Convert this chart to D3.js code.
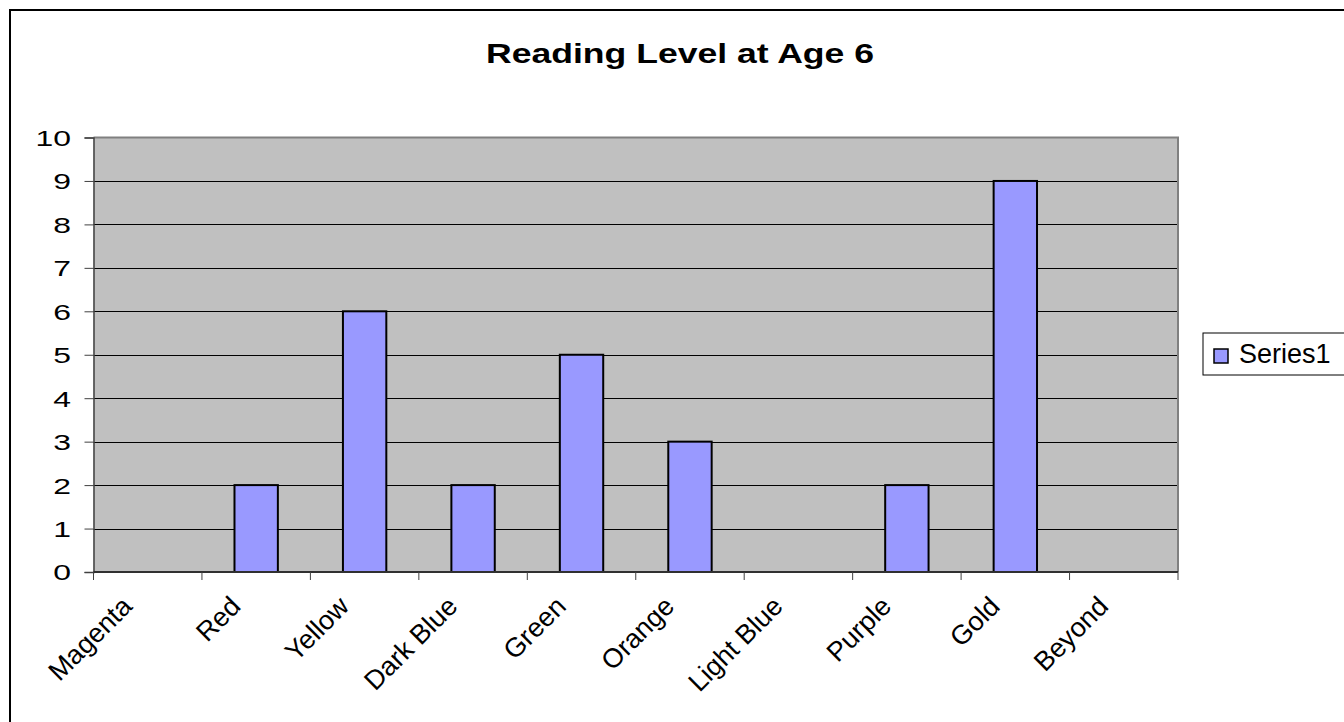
<!DOCTYPE html>
<html>
<head>
<meta charset="utf-8">
<script src="https://cdn.jsdelivr.net/npm/d3@7"></script>
<style>
  html, body { margin: 0; padding: 0; background: #fff; }
  svg { display: block; font-family: "Liberation Sans", Arial, sans-serif; }
</style>
</head>
<body>
<svg id="chart" width="1344" height="722"></svg>
<script>
// Reading levels and the number of children at each level
const categories = ["Magenta", "Red", "Yellow", "Dark Blue", "Green", "Orange", "Light Blue", "Purple", "Gold", "Beyond"];
const series1 = [0, 2, 6, 2, 5, 3, 0, 2, 9, 0];
const yTicks = [0, 1, 2, 3, 4, 5, 6, 7, 8, 9, 10];
const seriesName = "Series1";
const chartTitle = "Reading Level at Age 6";

const svg = d3.select("#chart");

// Outer chart frame
svg.append("rect")
  .attr("x", 10).attr("y", 10)
  .attr("width", 1360).attr("height", 740)
  .attr("fill", "#fff").attr("stroke", "#000").attr("stroke-width", 2);

const plot = { left: 93.5, right: 1178, top: 137.5, bottom: 572 };

const x = d3.scaleBand()
  .domain(categories)
  .range([plot.left, plot.right])
  .paddingInner(0.6)
  .paddingOuter(0.3);

const y = d3.scaleLinear()
  .domain([0, 10])
  .range([plot.bottom, plot.top]);

// Plot background
svg.append("rect")
  .attr("x", plot.left).attr("y", plot.top)
  .attr("width", plot.right - plot.left).attr("height", plot.bottom - plot.top)
  .attr("fill", "#c0c0c0");

// Horizontal gridlines
svg.append("g")
  .selectAll("line")
  .data(yTicks.filter(d => d > 0 && d < 10))
  .join("line")
  .attr("x1", plot.left).attr("x2", plot.right)
  .attr("y1", d => Math.round(y(d)) + 0.5).attr("y2", d => Math.round(y(d)) + 0.5)
  .attr("stroke", "#000").attr("stroke-width", 1);

// Plot border (top and right in grey)
svg.append("path")
  .attr("d", `M${plot.left},${plot.top} H${plot.right} V${plot.bottom}`)
  .attr("fill", "none").attr("stroke", "#808080").attr("stroke-width", 2);

// Bars
svg.append("g")
  .selectAll("rect")
  .data(categories.map((c, i) => ({ c, v: series1[i] })).filter(d => d.v > 0))
  .join("rect")
  .attr("x", d => x(d.c))
  .attr("y", d => y(d.v))
  .attr("width", x.bandwidth())
  .attr("height", d => y(0) - y(d.v))
  .attr("fill", "#9999ff")
  .attr("stroke", "#000").attr("stroke-width", 2);

// Y axis
const yAxis = svg.append("g")
  .attr("transform", `translate(${plot.left},0)`)
  .call(d3.axisLeft(y).tickValues(yTicks).tickSize(9).tickFormat(d3.format("d")));
yAxis.select(".domain").attr("stroke", "#404040").attr("stroke-width", 1.5);
yAxis.selectAll(".tick line").attr("stroke", "#404040");
yAxis.selectAll(".tick text")
  .attr("x", 0)
  .attr("transform", "translate(-22.5,0) scale(1.45,1)")
  .attr("font-size", 22).attr("fill", "#000")
  .attr("font-family", "Liberation Sans, Arial, sans-serif")
  .attr("dy", "0.36em");

// X axis with ticks at category boundaries
const xAxisG = svg.append("g");
xAxisG.append("line")
  .attr("x1", plot.left).attr("x2", plot.right)
  .attr("y1", plot.bottom).attr("y2", plot.bottom)
  .attr("stroke", "#303030").attr("stroke-width", 2);
const step = x.step();
xAxisG.selectAll(".xtick")
  .data(d3.range(categories.length + 1))
  .join("line")
  .attr("class", "xtick")
  .attr("x1", i => plot.left + i * step).attr("x2", i => plot.left + i * step)
  .attr("y1", plot.bottom).attr("y2", plot.bottom + 8)
  .attr("stroke", "#404040").attr("stroke-width", 1);
xAxisG.selectAll(".xlabel")
  .data(categories)
  .join("text")
  .attr("class", "xlabel")
  .attr("transform", d => `translate(${x(d) + x.bandwidth() / 2 - 14},${plot.bottom + 36}) rotate(-45)`)
  .attr("text-anchor", "end")
  .attr("font-size", 27)
  .attr("fill", "#000")
  .text(d => d);

// Title
svg.append("text")
  .attr("transform", "translate(680,63) scale(1.27,1)")
  .attr("text-anchor", "middle")
  .attr("font-size", 28).attr("font-weight", "bold")
  .text(chartTitle);

// Legend
const legend = svg.append("g");
legend.append("rect")
  .attr("x", 1203).attr("y", 333)
  .attr("width", 200).attr("height", 42)
  .attr("fill", "#fff").attr("stroke", "#000").attr("stroke-width", 1);
legend.append("rect")
  .attr("x", 1214).attr("y", 349)
  .attr("width", 14).attr("height", 14)
  .attr("fill", "#9999ff").attr("stroke", "#000").attr("stroke-width", 1.5);
legend.append("text")
  .attr("x", 1239).attr("y", 363)
  .attr("font-size", 27)
  .text(seriesName);
</script>
</body>
</html>
